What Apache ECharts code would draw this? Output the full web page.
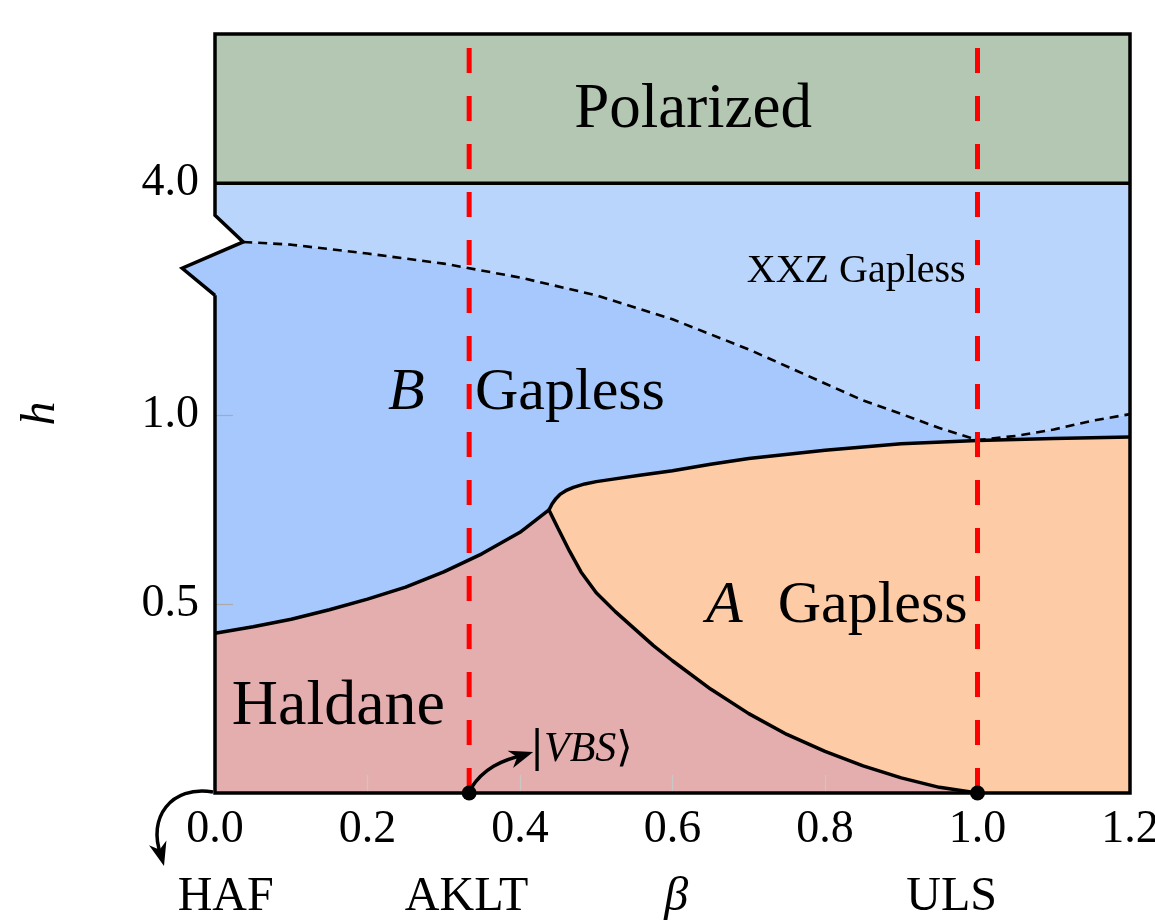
<!DOCTYPE html>
<html>
<head>
<meta charset="utf-8">
<script src="https://cdn.jsdelivr.net/npm/echarts@6/dist/echarts.min.js"></script>
<style>
  html, body { margin: 0; padding: 0; background: #fff; }
  #chartWrap { width: 1155px; height: 921px; }
</style>
</head>
<body>
<div id="chartWrap"></div>
<script>
// h 轴分段：h<=1 线性，h>1 压缩（断轴）
var K = 0.2046;
function toD(h) { return h <= 1 ? h : 1 + (h - 1) * K; }
function fromD(d) { return d <= 1 ? d : 1 + (d - 1) / K; }

var H_TOP = 5.93;
var H_POL = 4.0;
var yTicks = [0.5, 1.0, 4.0];

// 特殊点
var caseNames = ['HAF', 'AKLT', 'β', 'ULS'];
var caseBeta = [0.014, 0.33, 0.605, 0.966];
var specialBeta = [1 / 3, 1.0];

// 相界 (beta, h)
var haldaneTop = [[0, 0.423], [0.05, 0.44], [0.1, 0.46], [0.15, 0.485], [0.2, 0.513], [0.25, 0.545], [0.3, 0.585],
  [0.35, 0.633], [0.4, 0.69], [0.438, 0.749]];
var haldaneA = [[0.438, 0.749], [0.45, 0.70], [0.465, 0.64], [0.48, 0.585], [0.50, 0.53], [0.525, 0.48], [0.55, 0.435],
  [0.575, 0.39], [0.60, 0.35], [0.65, 0.275], [0.70, 0.21], [0.75, 0.155], [0.80, 0.11], [0.85, 0.072], [0.90, 0.04],
  [0.95, 0.015], [1.0, 0]];
var gapAB = [[0.438, 0.749], [0.442, 0.765], [0.447, 0.779], [0.453, 0.791], [0.46, 0.80], [0.47, 0.809], [0.485, 0.818],
  [0.50, 0.824], [0.52, 0.83], [0.557, 0.841], [0.6, 0.853], [0.65, 0.87], [0.7, 0.885], [0.8, 0.907], [0.9, 0.924],
  [1.0, 0.933], [1.1, 0.938], [1.2, 0.942]];
var xxzLine = [[0.037, 3.24], [0.1, 3.205], [0.2, 3.09], [0.3, 2.96], [0.4, 2.78], [0.5, 2.55], [0.6, 2.24],
  [0.7, 1.85], [0.8, 1.41], [0.85, 1.19], [0.9, 1.015], [0.95, 0.966], [1.0, 0.934], [1.05, 0.945], [1.1, 0.962],
  [1.15, 0.985], [1.2, 1.013]];
var axisBreak = [[0, 3.586], [0.037, 3.24], [-0.043, 2.90], [0, 2.55]];

var FONT = 'Liberation Serif';

function rev(a) { return a.slice().reverse(); }
function mapD(a) { return a.map(function (p) { return [p[0], toD(p[1])]; }); }

// 各区域多边形
var regions = [
  { name: 'Polarized', color: '#b4c7b3', pts: [[0, H_POL], [1.2, H_POL], [1.2, H_TOP], [0, H_TOP]] },
  { name: 'XXZ', color: '#b9d5fc', pts: [[0, H_POL], [1.2, H_POL]].concat(rev(xxzLine), [axisBreak[0]]) },
  { name: 'B', color: '#a6c8fc', pts: xxzLine.concat(rev(gapAB), rev(haldaneTop), [axisBreak[3], axisBreak[2]]) },
  { name: 'A', color: '#fdcba5', pts: gapAB.concat([[1.2, 0]], rev(haldaneA)) },
  { name: 'Haldane', color: '#e4aeae', pts: [[0, 0]].concat(haldaneTop, haldaneA) }
];
// 边框（左侧含断轴锯齿）
var frame = [axisBreak[3], [0, 0], [1.2, 0], [1.2, H_TOP], [0, H_TOP]].concat(axisBreak);

var chart = echarts.init(document.getElementById('chartWrap'), null, { renderer: 'canvas' });

function blackLine(data, w, dash) {
  return {
    type: 'line', data: mapD(data), symbol: 'none', z: 4, clip: false, silent: true,
    lineStyle: { color: '#000', width: w, type: dash || 'solid' }
  };
}

var series = [{
  type: 'custom', z: 1, silent: true,
  data: regions.map(function (r, i) { return i; }),
  renderItem: function (params, api) {
    var r = regions[params.dataIndex];
    return {
      type: 'polygon',
      shape: { points: r.pts.map(function (p) { return api.coord([p[0], toD(p[1])]); }) },
      style: { fill: r.color }
    };
  }
}, {
  type: 'custom', z: 4, silent: true, data: [0],
  renderItem: function (params, api) {
    return {
      type: 'polyline',
      shape: { points: frame.map(function (p) { return api.coord([p[0], toD(p[1])]); }) },
      style: { stroke: '#000', lineWidth: 3.5, fill: null, lineJoin: 'miter' }
    };
  }
}];
series.push(blackLine(haldaneTop, 3.5));
series.push(blackLine(haldaneA, 3.5));
series.push(blackLine(gapAB, 3.5));
series.push(blackLine([[0, H_POL], [1.2, H_POL]], 3.5));
series.push(blackLine(xxzLine, 2.6, [9, 6]));
specialBeta.forEach(function (b) {
  series.push({
    type: 'line', data: mapD([[b, 0], [b, H_TOP]]), symbol: 'none', z: 5, silent: true,
    lineStyle: { color: '#ff0000', width: 5, type: [25, 23] }
  });
});
series.push({
  type: 'scatter', data: specialBeta.map(function (b) { return [b, 0]; }), symbolSize: 15, z: 6, clip: false,
  itemStyle: { color: '#000', opacity: 1 }
});

chart.setOption({
  animation: false,
  backgroundColor: '#fff',
  grid: { left: 215, right: 25, top: 34, bottom: 128, outerBoundsMode: 'none', containLabel: false },
  xAxis: [{
    type: 'value', min: 0, max: 1.2, interval: 0.2, z: 3,
    axisLine: { show: false },
    axisTick: { inside: true, length: 18, lineStyle: { color: '#c8c8c8', width: 1.2 } },
    splitLine: { show: false },
    axisLabel: { margin: 14, fontSize: 46, fontFamily: FONT, color: '#000',
      formatter: function (v) { return v.toFixed(1); } }
  }, {
    type: 'value', min: 0, max: 1.2, position: 'bottom', z: 3,
    axisLine: { show: false }, axisTick: { show: false }, splitLine: { show: false },
    axisLabel: {
      customValues: caseBeta, margin: 80, fontSize: 48, fontFamily: FONT, color: '#000',
      formatter: function (v) {
        for (var i = 0; i < caseBeta.length; i++) {
          if (Math.abs(caseBeta[i] - v) < 1e-6) return caseNames[i] === 'β' ? '{i|β}' : caseNames[i];
        }
        return '';
      },
      rich: { i: { fontStyle: 'italic', fontSize: 48, fontFamily: FONT, color: '#000' } }
    }
  }],
  yAxis: {
    type: 'value', min: 0, max: toD(H_TOP), z: 3,
    name: 'h', nameLocation: 'middle', nameGap: 150, nameRotate: 90,
    nameTextStyle: { fontStyle: 'italic', fontSize: 48, fontFamily: FONT, color: '#000' },
    axisLine: { show: false },
    splitLine: { show: false },
    axisTick: { inside: true, length: 18, customValues: yTicks.map(toD), lineStyle: { color: '#aaa', width: 1.2 } },
    axisLabel: { customValues: yTicks.map(toD), margin: 16, fontSize: 46, fontFamily: FONT, color: '#000',
      formatter: function (v) { return fromD(v).toFixed(1); } }
  },
  series: series
});

// 注释：文字与箭头
var labels = [
  { text: 'Polarized', b: 0.627, h: 4.94, size: 63, align: 'center' },
  { text: 'XXZ Gapless', b: 0.841, h: 2.86, size: 40, align: 'center' },
  { text: 'B', b: 0.227, h: 1.28, size: 60, italic: true },
  { text: 'Gapless', b: 0.341, h: 1.28, size: 60 },
  { text: 'A', b: 0.644, h: 0.495, size: 60, italic: true },
  { text: 'Gapless', b: 0.738, h: 0.495, size: 60 },
  { text: 'Haldane', b: 0.022, h: 0.227, size: 64 },
  { text: '{u||}{i|VBS}{u|⟩}', b: 0.413, h: 0.114, size: 42 }
];

function px(b, h) { return chart.convertToPixel({ gridIndex: 0 }, [b, toD(h)]); }

function arrowHead(tip, ang, len, wid) {
  var c = Math.cos(ang), s = Math.sin(ang);
  var bx = tip[0] - len * c, by = tip[1] - len * s;
  var nx = tip[0] - 0.7 * len * c, ny = tip[1] - 0.7 * len * s;
  return {
    type: 'polygon', z: 10,
    shape: { points: [tip, [bx - wid * s, by + wid * c], [nx, ny], [bx + wid * s, by - wid * c]] },
    style: { fill: '#000' }
  };
}

var graphics = labels.map(function (l) {
  var p = px(l.b, l.h);
  return {
    type: 'text', x: p[0], y: p[1], z: 10,
    style: {
      text: l.text, fontSize: l.size, fontFamily: FONT, fontStyle: l.italic ? 'italic' : 'normal',
      fill: '#000', align: l.align || 'left', verticalAlign: 'middle',
      rich: {
        u: { fontSize: l.size, fontFamily: 'DejaVu Serif', fill: '#000' },
        i: { fontSize: l.size, fontFamily: FONT, fontStyle: 'italic', fill: '#000' }
      }
    }
  };
});

var o = px(0, 0);
var v = px(specialBeta[0], 0);
graphics.push({
  type: 'bezierCurve', z: 10,
  shape: { x1: v[0] + 2, y1: v[1] - 5, cpx1: v[0] + 14, cpy1: v[1] - 24, cpx2: v[0] + 32, cpy2: v[1] - 33, x2: v[0] + 55, y2: v[1] - 38 },
  style: { stroke: '#000', lineWidth: 3.5, fill: null }
});
graphics.push(arrowHead([v[0] + 64, v[1] - 41], Math.atan2(-8, 25), 24, 9));
graphics.push({
  type: 'bezierCurve', z: 10,
  shape: { x1: o[0] - 2, y1: o[1] - 1, cpx1: o[0] - 44, cpy1: o[1] - 8, cpx2: o[0] - 68, cpy2: o[1] + 25, x2: o[0] - 54, y2: o[1] + 62 },
  style: { stroke: '#000', lineWidth: 3.5, fill: null }
});
graphics.push(arrowHead([o[0] - 51, o[1] + 73], Math.atan2(37, 10), 24, 9));

chart.setOption({ graphic: graphics });
</script>
</body>
</html>
